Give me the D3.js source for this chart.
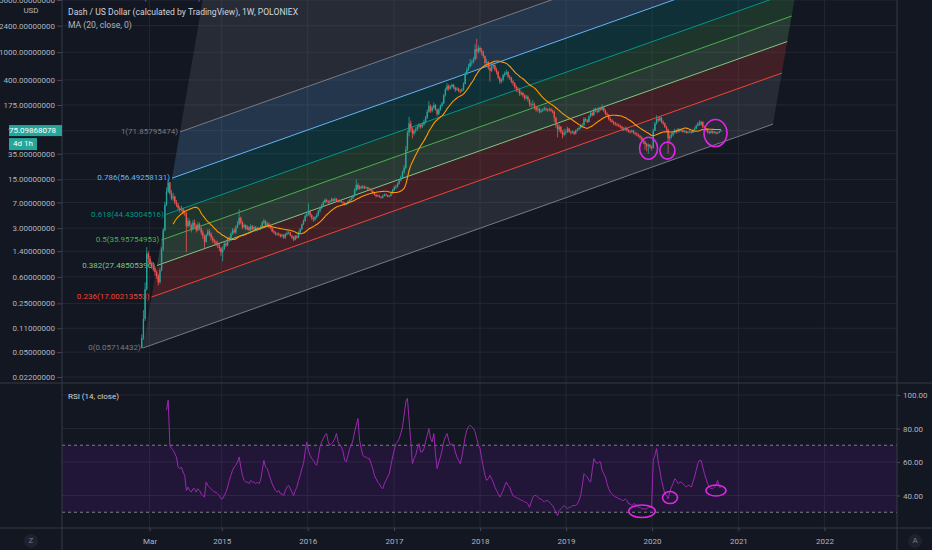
<!DOCTYPE html>
<html>
<head>
<meta charset="utf-8">
<script src="https://cdn.jsdelivr.net/npm/d3@7"></script>
<style>
  html, body { margin: 0; padding: 0; background: #131722; overflow: hidden; }
  svg { display: block; font-family: Roboto, "Noto Sans", sans-serif; }
  .axis text { fill: #b2b5be; font-size: 8px; font-family: Roboto, "Noto Sans", sans-serif; }
  .axis line { stroke: #434651; }
</style>
</head>
<body>
<svg width="932" height="550"></svg>
<script>
// ---- data (weekly candles, Dash/USD) ----
const startDate = Date.UTC(2014, 0, 27);
const firstOpen = 0.057;

const close2014 = [0.08, 0.15, 0.4, 1.3, 1.1, 0.95, 0.85, 0.8, 0.7, 0.62, 0.5, 0.75, 1.5, 2.8, 6.5, 10, 13.5, 9.5, 8, 8.5, 7, 6.5, 5.8, 5.5, 5.6, 5.0, 4.9, 3.2, 3.8, 3.3, 2.9, 3.6, 3.3, 2.8, 3.4, 3.0, 2.6, 2.3, 1.9, 2.4, 2.7, 2.5, 2.2, 2.0, 1.9, 1.8, 1.7, 1.55, 1.35];
const high2014 = [0.09, 0.2, 0.5, 1.6, 1.4, 1.2, 1.0, 0.95, 0.85, 0.75, 0.66, 0.8, 1.6, 3.0, 7.2, 11.5, 15.5, 14, 10.5, 9.6, 8.8, 7.6, 6.9, 6.2, 6.3, 5.9, 5.4, 5.1, 4.2, 4.0, 3.5, 3.9, 4.0, 3.4, 3.7, 3.6, 3.1, 2.8, 2.4, 2.5, 2.9, 2.9, 2.6, 2.3, 2.1, 2.0, 1.95, 1.8, 1.6];
const low2014 = [0.057, 0.075, 0.14, 0.38, 0.95, 0.85, 0.78, 0.72, 0.62, 0.56, 0.45, 0.48, 0.72, 1.4, 2.7, 6.2, 9.5, 9.0, 7.5, 7.4, 6.6, 6.0, 5.4, 5.0, 5.2, 4.7, 4.5, 1.35, 3.0, 3.1, 2.6, 2.8, 3.0, 2.6, 2.7, 2.8, 2.4, 2.1, 1.55, 1.85, 2.3, 2.3, 2.0, 1.85, 1.75, 1.65, 1.55, 1.4, 1.2];

const close2015 = [1.5, 1.8, 1.7, 2.1, 2.0, 2.5, 2.8, 2.6, 3.1, 3.4, 4.2, 3.6, 3.1, 3.3, 2.9, 3.1, 2.8, 3.2, 2.9, 3.1, 2.8, 3.0, 2.9, 3.1, 3.6, 3.8, 3.3, 3.5, 3.1, 3.0, 2.7, 2.6, 2.45, 2.5, 2.4, 2.3, 2.4, 2.2, 2.45, 2.55, 2.6, 2.35, 2.2, 2.05, 2.3, 2.2, 2.6, 2.9, 3.4, 3.8, 4.5, 4.8];
const high2015 = [1.65, 1.95, 1.9, 2.2, 2.3, 2.6, 3.0, 3.0, 3.3, 3.8, 5.6, 4.4, 3.8, 3.5, 3.4, 3.3, 3.2, 3.4, 3.3, 3.25, 3.2, 3.15, 3.1, 3.3, 3.8, 4.1, 3.9, 3.7, 3.6, 3.25, 3.1, 2.85, 2.7, 2.6, 2.6, 2.5, 2.5, 2.45, 2.55, 2.7, 2.75, 2.65, 2.4, 2.3, 2.4, 2.4, 2.7, 3.0, 3.5, 4.0, 4.7, 5.2];
const low2015 = [1.0, 1.45, 1.6, 1.65, 1.9, 1.95, 2.4, 2.5, 2.5, 3.0, 3.3, 3.4, 2.9, 3.0, 2.8, 2.8, 2.7, 2.7, 2.8, 2.8, 2.7, 2.7, 2.8, 2.8, 3.0, 3.4, 3.2, 3.2, 3.0, 2.9, 2.6, 2.5, 2.35, 2.35, 2.3, 2.2, 2.2, 2.1, 2.1, 2.35, 2.45, 2.3, 2.1, 1.95, 2.0, 2.1, 2.15, 2.5, 2.8, 3.3, 3.7, 4.3];

const close2016 = [5.2, 4.6, 4.2, 4.0, 4.3, 4.6, 5.3, 5.8, 6.4, 7.0, 7.6, 7.2, 7.0, 7.3, 7.8, 7.4, 7.9, 7.5, 7.2, 7.4, 7.1, 6.9, 6.6, 6.8, 7.3, 7.6, 8.0, 8.6, 10.5, 12.5, 11.0, 11.8, 11.3, 11.9, 11.2, 11.5, 10.8, 11.0, 10.2, 9.6, 9.0, 8.6, 8.8, 8.4, 8.2, 8.7, 9.1, 8.9, 8.5, 8.7, 9.4, 10.5];
const high2016 = [6.8, 5.5, 4.8, 4.4, 4.5, 4.9, 5.5, 6.1, 6.7, 7.4, 8.0, 7.9, 7.5, 7.6, 8.2, 8.0, 8.3, 8.1, 7.7, 7.7, 7.6, 7.3, 7.1, 7.0, 7.5, 7.9, 8.4, 9.0, 11.2, 15.0, 13.2, 12.4, 12.2, 12.5, 12.2, 11.9, 11.8, 11.4, 11.2, 10.5, 9.9, 9.3, 9.1, 9.0, 8.6, 9.0, 9.4, 9.4, 9.1, 8.9, 9.7, 11.0];
const low2016 = [4.5, 4.3, 3.9, 3.7, 3.8, 4.1, 4.4, 5.0, 5.6, 6.2, 6.8, 7.0, 6.7, 6.8, 7.1, 7.1, 7.2, 7.3, 7.0, 7.0, 6.9, 6.6, 6.3, 6.4, 6.6, 7.1, 7.4, 7.8, 8.4, 10.2, 10.5, 10.7, 10.9, 11.0, 10.9, 11.0, 10.5, 10.5, 10.0, 9.3, 8.8, 8.3, 8.4, 8.2, 7.9, 8.0, 8.5, 8.6, 8.3, 8.3, 8.5, 9.2];

const close2017 = [11.5, 11.8, 13.0, 14.5, 16, 19, 22, 40, 70, 95, 80, 68, 75, 78, 85, 90, 85, 92, 100, 115, 140, 170, 145, 160, 175, 150, 130, 150, 170, 185, 240, 290, 330, 300, 320, 340, 310, 290, 300, 280, 275, 290, 350, 480, 560, 620, 700, 720, 780, 1100, 1020, 1150];
const high2017 = [12.2, 12.6, 13.6, 15.2, 17, 20, 24, 45, 75, 118, 105, 84, 78, 84, 90, 96, 95, 98, 108, 122, 150, 200, 178, 170, 190, 180, 155, 158, 178, 195, 250, 310, 360, 345, 335, 355, 350, 320, 315, 310, 295, 305, 370, 520, 600, 680, 800, 780, 850, 1300, 1550, 1250];
const low2017 = [10.2, 10.8, 11.4, 12.6, 14, 15.5, 18, 21, 38, 62, 72, 58, 64, 70, 74, 80, 80, 82, 88, 95, 110, 135, 135, 138, 152, 145, 120, 125, 145, 165, 180, 230, 280, 280, 290, 310, 295, 270, 280, 265, 255, 270, 280, 345, 470, 540, 600, 640, 690, 760, 800, 950];

const close2018 = [1050, 1000, 880, 700, 720, 600, 540, 620, 650, 560, 520, 430, 380, 400, 470, 500, 520, 450, 430, 380, 360, 320, 300, 290, 250, 260, 240, 220, 230, 210, 180, 175, 180, 160, 150, 155, 140, 145, 150, 155, 150, 148, 152, 145, 140, 115, 90, 78, 85, 72, 66, 70, 72];
const high2018 = [1200, 1150, 1050, 900, 800, 750, 640, 700, 720, 670, 600, 540, 450, 420, 490, 530, 560, 535, 470, 440, 400, 370, 335, 315, 300, 275, 270, 250, 245, 240, 215, 190, 205, 190, 168, 165, 160, 152, 158, 166, 162, 156, 160, 158, 150, 145, 118, 95, 92, 88, 76, 80, 78];
const low2018 = [980, 900, 820, 640, 650, 560, 380, 520, 580, 530, 480, 410, 350, 360, 380, 440, 470, 420, 400, 360, 330, 300, 270, 265, 235, 240, 225, 205, 210, 195, 165, 160, 165, 150, 140, 142, 132, 135, 138, 145, 142, 140, 142, 138, 132, 100, 82, 60, 72, 68, 58, 62, 65];

const close2019 = [80, 72, 70, 72, 68, 75, 78, 82, 88, 90, 110, 105, 100, 120, 135, 125, 150, 145, 140, 155, 150, 160, 145, 130, 125, 110, 105, 100, 95, 92, 90, 88, 85, 80, 78, 82, 76, 73, 72, 75, 70, 68, 66, 63, 60, 56, 52, 48, 45, 47, 44, 42];
const high2019 = [85, 82, 75, 76, 74, 78, 82, 86, 92, 96, 118, 115, 110, 125, 142, 140, 158, 160, 152, 165, 162, 178, 165, 150, 138, 130, 116, 110, 104, 100, 97, 95, 92, 88, 84, 86, 84, 79, 76, 78, 77, 72, 71, 68, 65, 62, 58, 54, 50, 49, 48, 46];
const low2019 = [70, 70, 66, 68, 65, 66, 73, 76, 80, 85, 88, 100, 96, 98, 115, 120, 122, 138, 132, 136, 145, 146, 140, 125, 118, 105, 100, 96, 90, 88, 86, 84, 81, 76, 74, 75, 72, 70, 68, 70, 67, 64, 62, 60, 56, 52, 48, 40, 38, 35, 41, 39];

const close2020 = [75, 95, 110, 105, 115, 100, 95, 85, 78, 58, 62, 65, 70, 75, 72, 78, 74, 76, 72, 74, 70, 72, 73, 70, 76, 80, 88, 95, 92, 100, 85, 80, 76, 72, 70, 74, 70, 72, 69, 70, 73, 75.09868078];
const high2020 = [80, 100, 125, 118, 122, 118, 105, 98, 88, 80, 68, 70, 74, 80, 78, 82, 80, 79, 77, 77, 75, 74, 76, 74, 78, 84, 92, 100, 105, 104, 102, 88, 82, 78, 74, 76, 75, 74, 73, 72, 75, 77];
const low2020 = [44, 74, 92, 100, 102, 96, 90, 82, 70, 35, 52, 58, 62, 68, 68, 70, 71, 72, 70, 70, 68, 68, 70, 68, 69, 74, 78, 86, 88, 88, 82, 76, 72, 68, 67, 68, 67, 68, 66, 67, 69, 72];

const rsiStart = 15;
const rsi2014 = [91, 97, 70, 68, 67, 65, 63, 57, 56, 57, 54, 52, 43, 45, 43, 42, 44, 44, 42, 44, 43, 41, 40, 39, 48, 46, 45, 44, 43, 42, 42, 41, 40, 38];
const rsi2015 = [38, 40, 42, 45, 49, 52, 55, 57, 58, 60, 63, 57, 52, 49, 48, 48, 47, 49, 48, 48, 47, 48, 47, 49, 55, 61, 57, 56, 53, 50, 47, 45, 43, 42, 43, 41, 41, 40, 43, 45, 46, 44, 42, 40, 43, 45, 49, 52, 56, 59, 66, 72];
const rsi2016 = [67, 64, 62, 61, 59, 58, 63, 69, 72, 74, 76, 77, 72, 70, 71, 72, 74, 77, 72, 70, 69, 66, 61, 60, 64, 68, 70, 73, 78, 82, 86, 73, 68, 64, 63, 63, 62, 62, 59, 56, 52, 50, 48, 47, 45, 44, 47, 49, 51, 53, 58, 63];
const rsi2017 = [67, 71, 72, 74, 77, 81, 88, 96, 98, 85, 73, 59, 62, 64, 68, 71, 66, 66, 68, 72, 76, 80, 74, 72, 77, 65, 56, 60, 63, 67, 72, 75, 77, 73, 70, 71, 70, 66, 63, 61, 59, 63, 69, 75, 79, 81, 82, 81, 80, 78, 74, 70];
const rsi2018 = [68, 62, 57, 52, 49, 50, 52, 50, 48, 45, 43, 41, 39, 41, 43, 46, 48, 46, 45, 42, 40, 39, 39, 38, 38, 37, 37, 36, 36, 35, 33, 36, 39, 40, 40, 39, 38, 38, 37, 36, 37, 37, 36, 35, 34, 32, 30, 28, 31, 32, 33, 34, 33];
const rsi2019 = [32, 33, 33, 34, 34, 34, 35, 37, 40, 46, 53, 52, 51, 49, 48, 55, 62, 60, 59, 60, 60, 55, 53, 51, 47, 44, 42, 41, 40, 39, 39, 38, 38, 37, 37, 38, 37, 35, 35, 34, 35, 35, 34, 33, 33, 32, 32, 32, 32, 33, 33, 33];
const rsi2020 = [61, 64, 68, 60, 55, 49, 45, 41, 40, 38, 42, 45, 47, 50, 49, 47, 48, 48, 47, 46, 45, 46, 46, 45, 48, 51, 55, 59, 61, 61, 57, 53, 50, 47, 45, 44, 44, 45, 46, 49, 45, 45];

// axis ticks
const priceTicks = [5600, 2400, 1000, 400, 175, 75, 35, 15, 7, 3, 1.4, 0.6, 0.25, 0.11, 0.05, 0.022];
const rsiTicks = [100, 80, 60, 40];
const timeTickDates = [Date.UTC(2014, 2, 1), Date.UTC(2015, 0, 1), Date.UTC(2016, 0, 1), Date.UTC(2017, 0, 1), Date.UTC(2018, 0, 1), Date.UTC(2019, 0, 1), Date.UTC(2020, 0, 1), Date.UTC(2021, 0, 1), Date.UTC(2022, 0, 1)];
const timeTickLabels = ["Mar", "2015", "2016", "2017", "2018", "2019", "2020", "2021", "2022"];

// fib channel drawing (anchors in time/price)
const fibLevels = [0, 0.236, 0.382, 0.5, 0.618, 0.786, 1, 1.618];
const fibPrices = [0.05714432, 17.00213553, 27.4850539, 35.95754953, 44.43004516, 56.49258131, 71.85795474, 116.23085558];
const fibStart = { date: Date.UTC(2014, 0, 31), price: 0.05714432 };
const fibEnd = { date: Date.UTC(2021, 4, 28), price: 93 };
const fibWidthPoint = { date: Date.UTC(2014, 6, 8), price: 71.85795474 };

// hand drawn marks
const priceMarks = [{ date: Date.UTC(2019, 11, 17), price: 42 }, { date: Date.UTC(2020, 2, 6), price: 38.8 }, { date: Date.UTC(2020, 8, 26), price: 69.2 }];
const rsiMarks = [{ date: Date.UTC(2019, 10, 19), value: 30.6 }, { date: Date.UTC(2020, 2, 17), value: 38.8 }, { date: Date.UTC(2020, 8, 28), value: 43 }];

// ---- styles ----
const fibColors = ["#787b86", "#f44336", "#81c784", "#4caf50", "#009688", "#64b5f6", "#787b86", "#2196f3"];
const priceMarkSize = [[9, 11], [7.5, 8.5], [11.5, 13.5]];
const rsiMarkSize = [[13.3, 6.3], [7.5, 6], [10, 5.5]];
const upColor = "#26a69a", downColor = "#ef5350";
const gridColor = "#242733", lineColor = "#363a45";

const paneLeft = 62, paneRight = 897;
const mainBottom = 383, rsiBottom = 528;

const svg = d3.select("svg");
const defs = svg.append("defs");
defs.append("clipPath").attr("id", "clip-main").append("rect")
    .attr("x", paneLeft).attr("y", 0).attr("width", paneRight - paneLeft).attr("height", mainBottom);
defs.append("clipPath").attr("id", "clip-rsi").append("rect")
    .attr("x", paneLeft).attr("y", mainBottom).attr("width", paneRight - paneLeft).attr("height", rsiBottom - mainBottom);

// build candles
const closes = [].concat(close2014, close2015, close2016, close2017, close2018, close2019, close2020);
const highs = [].concat(high2014, high2015, high2016, high2017, high2018, high2019, high2020);
const lows = [].concat(low2014, low2015, low2016, low2017, low2018, low2019, low2020);
const weekMs = 7 * 24 * 3600 * 1000;
const candles = closes.map((c, i) => ({
    date: new Date(startDate + i * weekMs),
    open: i === 0 ? firstOpen : closes[i - 1],
    high: highs[i],
    low: lows[i],
    close: c
}));

const maPeriod = 20;
const maData = candles.slice(maPeriod - 1).map((d, j) => ({
    date: d.date,
    value: d3.mean(closes.slice(j, j + maPeriod))
}));

const rsiData = [].concat(rsi2014, rsi2015, rsi2016, rsi2017, rsi2018, rsi2019, rsi2020)
    .map((v, i) => ({ date: new Date(startDate + (i + rsiStart) * weekMs), value: v }));

// scales
const x = d3.scaleUtc()
    .domain([new Date(Date.UTC(2015, 0, 1)), new Date(Date.UTC(2022, 0, 1))])
    .range([221.7, 824.4]);
const y = d3.scaleLog().domain([0.022, 5600]).range([377, 0]);
const yRsi = d3.scaleLinear().domain([20, 100]).range([529, 395]);

// grid
const grid = svg.append("g");
grid.selectAll("line.v").data(timeTickDates).join("line")
    .attr("x1", d => x(d)).attr("x2", d => x(d))
    .attr("y1", 0).attr("y2", rsiBottom)
    .attr("stroke", gridColor);
grid.selectAll("line.h").data(priceTicks).join("line")
    .attr("x1", paneLeft).attr("x2", paneRight)
    .attr("y1", d => y(d)).attr("y2", d => y(d))
    .attr("stroke", gridColor);
grid.selectAll("line.r").data(rsiTicks).join("line")
    .attr("x1", paneLeft).attr("x2", paneRight)
    .attr("y1", d => yRsi(d)).attr("y2", d => yRsi(d))
    .attr("stroke", gridColor);

// ---- main pane ----
const main = svg.append("g").attr("clip-path", "url(#clip-main)");

const ax = x(fibStart.date), ay = y(fibStart.price);
const bx = x(fibEnd.date), by = y(fibEnd.price);
const ox = x(fibWidthPoint.date) - ax, oy = y(fibWidthPoint.price) - ay;
const fib = fibLevels.map((L, i) => ({
    level: L,
    price: fibPrices[i],
    color: fibColors[i],
    x1: ax + L * ox, y1: ay + L * oy,
    x2: bx + L * ox, y2: by + L * oy
}));

main.append("g").selectAll("polygon").data(fib.slice(0, -1)).join("polygon")
    .attr("points", (d, i) => {
        const n = fib[i + 1];
        return [[d.x1, d.y1], [d.x2, d.y2], [n.x2, n.y2], [n.x1, n.y1]].join(" ");
    })
    .attr("fill", d => d.color)
    .attr("fill-opacity", 0.2);

main.append("g").selectAll("line").data(fib).join("line")
    .attr("x1", d => d.x1).attr("y1", d => d.y1)
    .attr("x2", d => d.x2).attr("y2", d => d.y2)
    .attr("stroke", d => d.color)
    .attr("stroke-width", 1);

main.append("g").selectAll("text").data(fib).join("text")
    .attr("x", d => d.x1 - 2)
    .attr("y", d => d.y1)
    .attr("text-anchor", "end")
    .attr("dominant-baseline", "middle")
    .attr("fill", d => d.color)
    .style("font-size", "8px")
    .text(d => `${d.level}(${d.price.toFixed(8)})`);

// candles
const bodyW = 1.4;
const cg = main.append("g");
cg.selectAll("line").data(candles).join("line")
    .attr("x1", d => x(d.date)).attr("x2", d => x(d.date))
    .attr("y1", d => y(Math.max(d.high, d.open, d.close)))
    .attr("y2", d => y(Math.min(d.low, d.open, d.close)))
    .attr("stroke", d => d.close >= d.open ? upColor : downColor)
    .attr("stroke-width", 0.8);
cg.selectAll("rect").data(candles).join("rect")
    .attr("x", d => x(d.date) - bodyW / 2)
    .attr("width", bodyW)
    .attr("y", d => y(Math.max(d.open, d.close)))
    .attr("height", d => Math.max(0.8, Math.abs(y(d.open) - y(d.close))))
    .attr("fill", d => d.close >= d.open ? upColor : downColor);

// moving average
main.append("path")
    .datum(maData)
    .attr("fill", "none")
    .attr("stroke", "#ff9800")
    .attr("stroke-width", 1.1)
    .attr("d", d3.line().x(d => x(d.date)).y(d => y(d.value)).curve(d3.curveMonotoneX));

main.append("g").selectAll("ellipse").data(priceMarks).join("ellipse")
    .attr("cx", d => x(d.date)).attr("cy", d => y(d.price))
    .attr("rx", (d, i) => priceMarkSize[i][0]).attr("ry", (d, i) => priceMarkSize[i][1])
    .attr("fill", "none").attr("stroke", "#e026e6").attr("stroke-width", 1.6);

// legend
svg.append("text").attr("x", 68).attr("y", 13).attr("dominant-baseline", "middle")
    .attr("fill", "#d1d4dc").style("font-size", "8.6px")
    .text("Dash / US Dollar (calculated by TradingView), 1W, POLONIEX");
svg.append("text").attr("x", 68).attr("y", 25.5).attr("dominant-baseline", "middle")
    .attr("fill", "#b2b5be").style("font-size", "8.6px")
    .text("MA (20, close, 0)");

// ---- RSI pane ----
const rsiG = svg.append("g").attr("clip-path", "url(#clip-rsi)");
rsiG.append("rect")
    .attr("x", paneLeft).attr("width", paneRight - paneLeft)
    .attr("y", yRsi(70)).attr("height", yRsi(30) - yRsi(70))
    .attr("fill", "#9915ff").attr("fill-opacity", 0.1);
rsiG.selectAll("line.band").data([70, 30]).join("line")
    .attr("x1", paneLeft).attr("x2", paneRight)
    .attr("y1", d => yRsi(d)).attr("y2", d => yRsi(d))
    .attr("stroke", "#9598a1").attr("stroke-opacity", 0.8)
    .attr("stroke-dasharray", "3,3");
rsiG.append("path")
    .datum(rsiData)
    .attr("fill", "none")
    .attr("stroke", "#9c27b0")
    .attr("stroke-width", 1)
    .attr("d", d3.line().x(d => x(d.date)).y(d => yRsi(d.value)));
rsiG.append("g").selectAll("ellipse").data(rsiMarks).join("ellipse")
    .attr("cx", d => x(d.date)).attr("cy", d => yRsi(d.value))
    .attr("rx", (d, i) => rsiMarkSize[i][0]).attr("ry", (d, i) => rsiMarkSize[i][1])
    .attr("fill", "none").attr("stroke", "#e026e6").attr("stroke-width", 1.6);
svg.append("text").attr("x", 68).attr("y", 397).attr("dominant-baseline", "middle")
    .attr("fill", "#d1d4dc").style("font-size", "8px").text("RSI (14, close)");

// ---- frame lines ----
svg.append("g").selectAll("line").data([
    [paneLeft, 0, paneLeft, 550], [paneRight, 0, paneRight, 550],
    [0, mainBottom, 932, mainBottom], [0, rsiBottom, 932, rsiBottom]
]).join("line")
    .attr("x1", d => d[0]).attr("y1", d => d[1]).attr("x2", d => d[2]).attr("y2", d => d[3])
    .attr("stroke", lineColor);

// ---- axes ----
svg.append("g").attr("class", "axis")
    .attr("transform", `translate(${paneLeft},0)`)
    .call(d3.axisLeft(y).tickValues(priceTicks).tickFormat(d => d.toFixed(8)).tickSize(5).tickPadding(2))
    .call(g => g.select(".domain").remove());

svg.append("g").attr("class", "axis")
    .attr("transform", `translate(${paneRight},0)`)
    .call(d3.axisRight(yRsi).tickValues(rsiTicks).tickFormat(d => d.toFixed(2)).tickSize(3).tickPadding(3))
    .call(g => g.select(".domain").remove());

svg.append("g").attr("class", "axis")
    .attr("transform", `translate(0,${rsiBottom})`)
    .call(d3.axisBottom(x).tickValues(timeTickDates.map(d => new Date(d)))
        .tickFormat((d, i) => timeTickLabels[i]).tickSize(3).tickPadding(7))
    .call(g => g.select(".domain").remove());

svg.append("text").attr("x", 31).attr("y", 11).attr("text-anchor", "middle")
    .attr("dominant-baseline", "middle").attr("fill", "#b2b5be").style("font-size", "8px").text("USD");

// last price badge + countdown
const last = candles[candles.length - 1];
const badgeY = y(last.close);
svg.append("rect").attr("x", 9).attr("y", badgeY - 5.5).attr("width", paneLeft - 9).attr("height", 11).attr("fill", upColor);
svg.append("text").attr("x", 56).attr("y", badgeY).attr("text-anchor", "end").attr("dominant-baseline", "middle")
    .attr("fill", "#ffffff").style("font-size", "8px").text(last.close.toFixed(8));
svg.append("rect").attr("x", 9).attr("y", badgeY + 7.5).attr("width", 28).attr("height", 12).attr("fill", upColor);
svg.append("text").attr("x", 23).attr("y", badgeY + 13.5).attr("text-anchor", "middle").attr("dominant-baseline", "middle")
    .attr("fill", "#ffffff").style("font-size", "8px").text("4d 1h");

// corner buttons
[[31, "Z"], [915, "A"]].forEach(([cx, t]) => {
    svg.append("circle").attr("cx", cx).attr("cy", 541).attr("r", 7).attr("fill", "#1e222d");
    svg.append("text").attr("x", cx).attr("y", 541).attr("text-anchor", "middle").attr("dominant-baseline", "middle")
        .attr("fill", "#787b86").style("font-size", "8px").text(t);
});
</script>
</body>
</html>
